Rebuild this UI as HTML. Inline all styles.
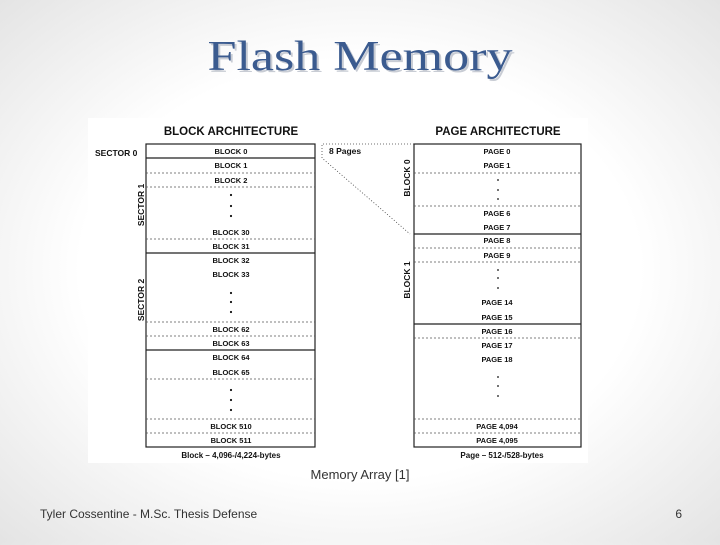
<!DOCTYPE html>
<html><head><meta charset="utf-8"><style>
html,body{margin:0;padding:0}
body{width:720px;height:540px;overflow:hidden;background:radial-gradient(ellipse at center,#ffffff 55%,#e4e4e4 100%);}
</style></head><body>
<svg width="720" height="540" viewBox="0 0 720 540" xmlns="http://www.w3.org/2000/svg" font-family="Liberation Sans, sans-serif">
<text x="360" y="70" text-anchor="middle" font-family="Liberation Serif, serif" font-size="42" fill="#c8ccd4" textLength="305" lengthAdjust="spacingAndGlyphs" transform="translate(2,2)">Flash Memory</text>
<text x="360" y="70" text-anchor="middle" font-family="Liberation Serif, serif" font-size="42" fill="#3b5b8f" textLength="305" lengthAdjust="spacingAndGlyphs">Flash Memory</text>
<rect x="88" y="118" width="500" height="345" fill="#fff"/>
<g font-weight="bold" fill="#111">
<text x="231" y="135" text-anchor="middle" font-size="11.5">BLOCK ARCHITECTURE</text>
<text x="498" y="135" text-anchor="middle" font-size="11.5">PAGE ARCHITECTURE</text>
<text x="95" y="156" font-size="8.5">SECTOR 0</text>
<text transform="translate(144,205) rotate(-90)" text-anchor="middle" font-size="8.5">SECTOR 1</text>
<text transform="translate(144,300) rotate(-90)" text-anchor="middle" font-size="8.5">SECTOR 2</text>
<text transform="translate(410,178) rotate(-90)" text-anchor="middle" font-size="8.5">BLOCK 0</text>
<text transform="translate(410,280) rotate(-90)" text-anchor="middle" font-size="8.5">BLOCK 1</text>
<text x="329" y="154" font-size="8.5">8 Pages</text>
</g>
<g fill="none" stroke="#222" stroke-width="1.2">
<rect x="146" y="144" width="169" height="303"/>
<rect x="414" y="144" width="167" height="303"/>
<line x1="146" y1="158" x2="315" y2="158"/>
<line x1="146" y1="253" x2="315" y2="253"/>
<line x1="146" y1="350" x2="315" y2="350"/>
<line x1="414" y1="234" x2="581" y2="234"/>
<line x1="414" y1="324" x2="581" y2="324"/>
</g>
<g stroke="#555" stroke-width="0.8" stroke-dasharray="2,2">
<line x1="146" y1="173" x2="315" y2="173"/><line x1="146" y1="187" x2="315" y2="187"/>
<line x1="146" y1="239" x2="315" y2="239"/><line x1="146" y1="322" x2="315" y2="322"/>
<line x1="146" y1="336" x2="315" y2="336"/><line x1="146" y1="379" x2="315" y2="379"/>
<line x1="146" y1="419" x2="315" y2="419"/><line x1="146" y1="433" x2="315" y2="433"/>
<line x1="414" y1="173" x2="581" y2="173"/><line x1="414" y1="206" x2="581" y2="206"/>
<line x1="414" y1="248" x2="581" y2="248"/><line x1="414" y1="262" x2="581" y2="262"/>
<line x1="414" y1="338" x2="581" y2="338"/><line x1="414" y1="419" x2="581" y2="419"/>
<line x1="414" y1="433" x2="581" y2="433"/>
</g>
<g stroke="#444" stroke-width="0.8" stroke-dasharray="1,2" fill="none">
<polyline points="414,144 322,144 322,158 410,234"/>
</g>
<g font-weight="bold" font-size="7.5" fill="#111" text-anchor="middle">
<text x="231" y="154">BLOCK 0</text><text x="231" y="168">BLOCK 1</text><text x="231" y="183">BLOCK 2</text>
<text x="231" y="235">BLOCK 30</text><text x="231" y="249">BLOCK 31</text><text x="231" y="263">BLOCK 32</text>
<text x="231" y="277">BLOCK 33</text><text x="231" y="332">BLOCK 62</text><text x="231" y="346">BLOCK 63</text>
<text x="231" y="360">BLOCK 64</text><text x="231" y="375">BLOCK 65</text><text x="231" y="429">BLOCK 510</text>
<text x="231" y="443">BLOCK 511</text>
<text x="497" y="154">PAGE 0</text><text x="497" y="168">PAGE 1</text><text x="497" y="216">PAGE 6</text>
<text x="497" y="230">PAGE 7</text><text x="497" y="243">PAGE 8</text><text x="497" y="258">PAGE 9</text>
<text x="497" y="305">PAGE 14</text><text x="497" y="320">PAGE 15</text><text x="497" y="334">PAGE 16</text>
<text x="497" y="348">PAGE 17</text><text x="497" y="362">PAGE 18</text><text x="497" y="429">PAGE 4,094</text>
<text x="497" y="443">PAGE 4,095</text>
<text x="231" y="458" font-size="8">Block – 4,096-/4,224-bytes</text>
<text x="502" y="458" font-size="8">Page – 512-/528-bytes</text>
</g>
<g fill="#111">
<circle cx="231" cy="195" r="1.1"/><circle cx="231" cy="206" r="1.1"/><circle cx="231" cy="216" r="1.1"/>
<circle cx="231" cy="293" r="1.1"/><circle cx="231" cy="302" r="1.1"/><circle cx="231" cy="312" r="1.1"/>
<circle cx="231" cy="390" r="1.1"/><circle cx="231" cy="400" r="1.1"/><circle cx="231" cy="410" r="1.1"/>
<circle cx="498" cy="180" r="0.9"/><circle cx="498" cy="190" r="0.9"/><circle cx="498" cy="199" r="0.9"/>
<circle cx="498" cy="270" r="0.9"/><circle cx="498" cy="278" r="0.9"/><circle cx="498" cy="288" r="0.9"/>
<circle cx="498" cy="377" r="0.9"/><circle cx="498" cy="386" r="0.9"/><circle cx="498" cy="396" r="0.9"/>
</g>
<text x="360" y="479" text-anchor="middle" font-size="13" fill="#333">Memory Array [1]</text>
<text x="40" y="518" font-size="12" fill="#333">Tyler Cossentine - M.Sc. Thesis Defense</text>
<text x="682" y="518" text-anchor="end" font-size="12" fill="#333">6</text>
</svg>
</body></html>
